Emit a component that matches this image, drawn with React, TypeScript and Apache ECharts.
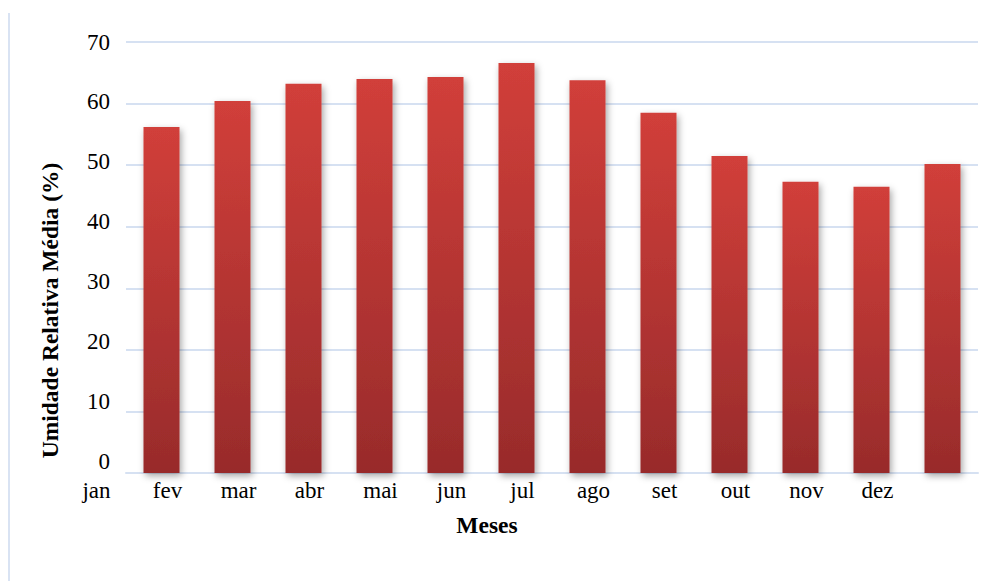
import React, { useEffect, useRef } from "react";
import * as echarts from "echarts";

const months = ["jan", "fev", "mar", "abr", "mai", "jun", "jul", "ago", "set", "out", "nov", "dez"];
const humidity = [56.2, 60.4, 63.2, 64.0, 64.3, 66.6, 63.8, 58.5, 51.5, 47.3, 46.5, 50.2];
const yTicks = { min: 0, max: 70, interval: 10 };
const yName = "Umidade Relativa Média (%)";
const xName = "Meses";

export default function App() {
  const ref = useRef<HTMLDivElement>(null);
  useEffect(() => {
    if (!ref.current) return;
    const chart = echarts.init(ref.current, null, { renderer: "svg" });
    const font = "'Liberation Serif', 'Times New Roman', serif";
    chart.setOption({
      animation: false,
      textStyle: { fontFamily: font },
      grid: [
        { left: 126, right: 17, top: 42, bottom: 108, containLabel: false },
        { left: 126, right: 17, top: 42, bottom: 120, containLabel: false },
      ],
      graphic: [
        {
          type: "line",
          shape: { x1: 9, y1: 13, x2: 9, y2: 581 },
          style: { stroke: "#d9e3f3", lineWidth: 2 },
        },
      ],
      xAxis: [
        {
          type: "category",
          gridIndex: 0,
          data: months,
          name: xName,
          nameLocation: "middle",
          nameGap: 40,
          nameTextStyle: { fontFamily: font, fontSize: 23.5, fontWeight: "bold", color: "#000", padding: [0, 130, 0, 0] },
          axisLine: { show: true, lineStyle: { color: "#d6e1f2", width: 2 } },
          axisTick: { show: false },
          axisLabel: {
            interval: 0,
            fontFamily: font,
            fontSize: 23,
            color: "#000",
            margin: 6,
            padding: [0, 130, 0, 0],
          },
        },
        { type: "category", gridIndex: 1, data: months, show: false },
      ],
      yAxis: [
        {
          type: "value",
          gridIndex: 0,
          min: yTicks.min,
          max: yTicks.max,
          interval: yTicks.interval,
          name: yName,
          nameLocation: "middle",
          nameGap: 64,
          nameTextStyle: { fontFamily: font, fontSize: 23.5, fontWeight: "bold", color: "#000", padding: [0, 106, 0, 0] },
          axisLine: { show: false },
          axisTick: { show: false },
          axisLabel: { show: false },
          splitLine: { lineStyle: { color: "#d6e1f2", width: 2 } },
        },
        {
          type: "value",
          gridIndex: 1,
          min: yTicks.min,
          max: yTicks.max,
          interval: yTicks.interval,
          axisLine: { show: false },
          axisTick: { show: false },
          splitLine: { show: false },
          axisLabel: { fontFamily: font, fontSize: 23, color: "#000", margin: 16 },
        },
      ],
      series: [
        {
          type: "bar",
          xAxisIndex: 0,
          yAxisIndex: 0,
          data: humidity,
          barWidth: 36,
          itemStyle: {
            color: new echarts.graphic.LinearGradient(0, 0, 0, 1, [
              { offset: 0, color: "#d13f3a" },
              { offset: 1, color: "#982b2b" },
            ]),
            shadowColor: "rgba(0,0,0,0.35)",
            shadowBlur: 7,
            shadowOffsetX: 2,
            shadowOffsetY: 3,
          },
        },
      ],
    });
    return () => chart.dispose();
  }, []);
  return <div ref={ref} style={{ width: 995, height: 581, position: "absolute", left: 0, top: 0 }} />;
}
